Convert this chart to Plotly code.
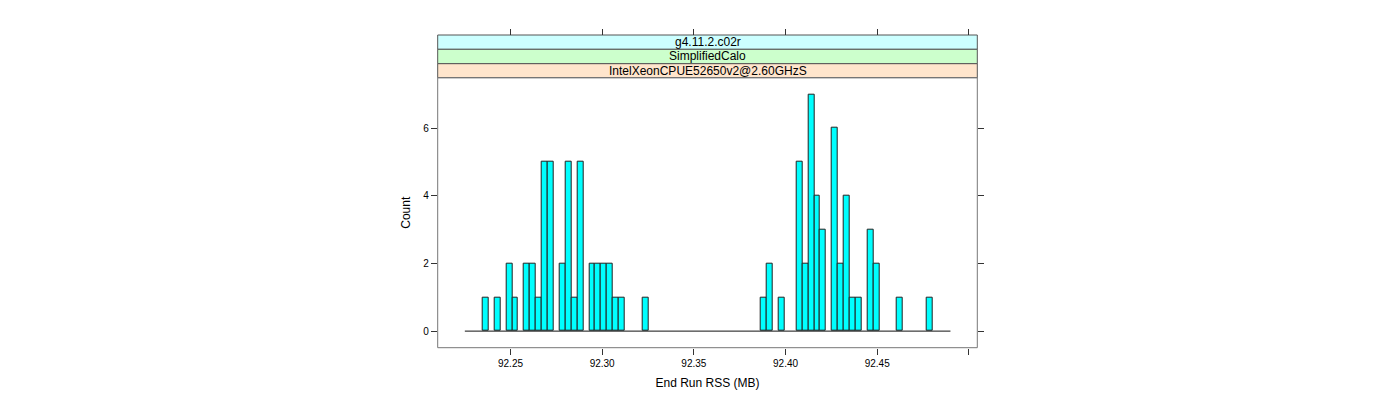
import plotly.graph_objects as go

# ---- data ----
bin_start = 92.2251        # first histogram break (MB)
bin_width = 0.00323        # histogram bin width (MB)
counts = [
    0, 0, 0, 1, 0, 1, 0, 2, 1, 0,
    2, 2, 1, 5, 5, 0, 2, 5, 1, 5,
    0, 2, 2, 2, 2, 1, 1, 0, 0, 0,
    1, 0, 0, 0, 0, 0, 0, 0, 0, 0,
    0, 0, 0, 0, 0, 0, 0, 0, 0, 0,
    1, 2, 0, 1, 0, 0, 5, 2, 7, 4,
    3, 0, 6, 2, 4, 1, 1, 0, 3, 2,
    0, 0, 0, 1, 0, 0, 0, 0, 1, 0,
    0, 0,
]
x_ticks = [92.25, 92.30, 92.35, 92.40, 92.45, 92.50]
x_tick_labels = ["92.25", "92.30", "92.35", "92.40", "92.45", ""]
y_ticks = [0, 2, 4, 6]
strip_labels = ["g4.11.2.c02r", "SimplifiedCalo", "IntelXeonCPUE52650v2@2.60GHzS"]
strip_colors = ["#CCFFFF", "#CCFFCC", "#FFE5CC"]
x_range = [92.2103, 92.5046]
y_range = [-0.49, 7.49]

# ---- derived bins ----
edges = [bin_start + i * bin_width for i in range(len(counts) + 1)]
centers = [(edges[i] + edges[i + 1]) / 2 for i in range(len(counts))]
nz_x = [c for c, n in zip(centers, counts) if n > 0]
nz_y = [n for n in counts if n > 0]

W, H = 1400, 400
OFF = 8  # page body margin
def px(x):
    return (x - OFF) / W
def py(y):
    return 1 - (y - OFF) / H

left, right = 437.7, 977.3
top, bottom = 77.7, 347.7
strip_edges = [35.0, 49.3, 63.7, 77.7]

font = "Liberation Sans, Arial, Helvetica, sans-serif"

fig = go.Figure()
fig.add_trace(go.Scatter(
    x=[edges[0], edges[-1]], y=[0, 0], mode="lines",
    line=dict(color="#111111", width=1), hoverinfo="skip", showlegend=False,
))
fig.add_trace(go.Bar(
    x=nz_x, y=nz_y, width=bin_width,
    marker=dict(color="#00FFFF", line=dict(color="#222222", width=1)),
    showlegend=False,
))
fig.add_trace(go.Scatter(x=[x_range[0]], y=[0], xaxis="x2", mode="markers",
                         marker=dict(opacity=0), hoverinfo="skip", showlegend=False))

shapes = []
shapes.append(dict(type="rect", xref="paper", yref="paper",
                   x0=px(left), x1=px(right), y0=py(bottom), y1=py(top),
                   line=dict(color="#777777", width=1), fillcolor="rgba(0,0,0,0)", layer="above"))
annotations = []
for i, (lab, col) in enumerate(zip(strip_labels, strip_colors)):
    y0 = strip_edges[i]
    y1 = strip_edges[i + 1]
    shapes.append(dict(type="rect", xref="paper", yref="paper",
                       x0=px(left), x1=px(right), y0=py(y1), y1=py(y0),
                       line=dict(color="#555555", width=1), fillcolor=col, layer="below"))
    annotations.append(dict(text=lab, xref="paper", yref="paper",
                            x=(px(left) + px(right)) / 2, y=(py(y0) + py(y1)) / 2,
                            xanchor="center", yanchor="middle", showarrow=False,
                            font=dict(family=font, size=12, color="black")))

fig.update_layout(
    width=W, height=H,
    margin=dict(l=0, r=0, t=0, b=0),
    paper_bgcolor="white", plot_bgcolor="white",
    bargap=0,
    shapes=shapes, annotations=annotations,
    font=dict(family=font, color="black"),
    xaxis=dict(
        domain=[px(left), px(right)], range=x_range,
        tickvals=x_ticks, ticktext=x_tick_labels,
        ticks="outside", ticklen=6, tickcolor="#333333", tickwidth=1,
        showgrid=False, zeroline=False, showline=False,
        tickfont=dict(size=10, family=font),
        title=dict(text="End Run RSS (MB)", font=dict(size=12, family=font), standoff=10),
        anchor="y",
    ),
    xaxis2=dict(
        overlaying="x", matches="x", side="top", anchor="free", position=py(strip_edges[0]),
        tickvals=x_ticks, ticktext=["" for _ in x_ticks],
        ticks="outside", ticklen=6, tickcolor="#333333", tickwidth=1,
        showgrid=False, zeroline=False, showline=False,
    ),
    yaxis=dict(
        domain=[py(bottom), py(top)], range=y_range,
        tickvals=y_ticks, ticks="outside", ticklen=6, tickcolor="#333333", tickwidth=1,
        mirror="ticks", showline=False,
        showgrid=False, zeroline=False,
        tickfont=dict(size=10, family=font),
        title=dict(text="Count", font=dict(size=12, family=font), standoff=9),
    ),
)

fig.write_html("out.html")
